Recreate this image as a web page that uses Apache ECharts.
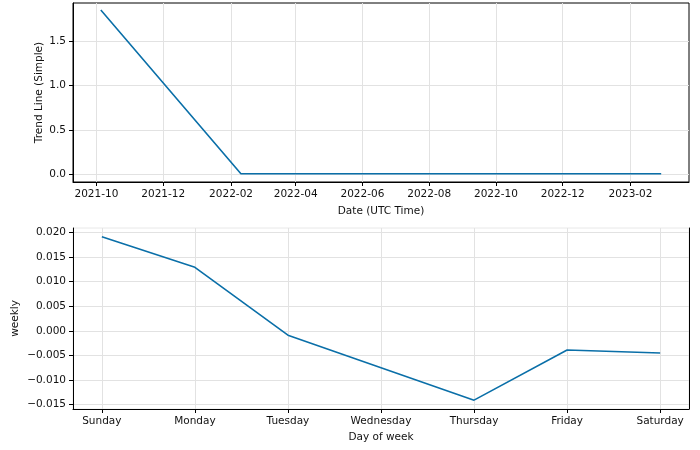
<!DOCTYPE html>
<html>
<head>
<meta charset="utf-8">
<script src="https://cdn.jsdelivr.net/npm/echarts@6/dist/echarts.min.js"></script>
<style>
html,body{margin:0;padding:0;background:#fff;}
#chart{width:700px;height:450px;}
</style>
</head>
<body>
<div id="chart"></div>
<script>
// ---- data ----
const trendDates = ['2021-10-05', '2022-02-10', '2023-03-01'];
const trendValues = [1.850, 0.010, 0.010];
const dateTicks = ['2021-10-01','2021-12-01','2022-02-01','2022-04-01','2022-06-01','2022-08-01','2022-10-01','2022-12-01','2023-02-01'];
const trendYTicks = [0, 0.5, 1.0, 1.5];

const days = ['Sunday','Monday','Tuesday','Wednesday','Thursday','Friday','Saturday'];
const weeklyValues = [0.0191, 0.0129, -0.0009, -0.0075, -0.0141, -0.0039, -0.0045];
const weeklyYTicks = [-0.015, -0.010, -0.005, 0.000, 0.005, 0.010, 0.015, 0.020];

// ---- helpers ----
const ts = s => Date.parse(s + 'T00:00:00Z');
const pad = n => (n < 10 ? '0' : '') + n;
const fmtMonth = v => { const d = new Date(v); return d.getUTCFullYear() + '-' + pad(d.getUTCMonth() + 1); };
const fmtSigned = (v, p) => (Math.abs(v) < 1e-12) ? (0).toFixed(p) : (v < 0 ? '\u2212' + Math.abs(v).toFixed(p) : Number(v).toFixed(p));

const FONT = 'DejaVu Sans';
const GRIDC = '#e2e2e2';
const LINEC = '#0a6fa8';
const labelStyle = { color: '#111', fontFamily: FONT, fontSize: 10.5 };
const nameStyle = { color: '#111', fontFamily: FONT, fontSize: 10.5 };

const chart = echarts.init(document.getElementById('chart'), null, { renderer: 'canvas' });

const option = {
  animation: false,
  backgroundColor: '#fff',
  grid: [
    { left: 73, right: 11, top: 3, height: 179, show: true, borderColor: '#000', borderWidth: 1, containLabel: false, outerBoundsMode: 'none' },
    { left: 73, right: 11, top: 228, height: 181, show: true, borderColor: '#e8e8e8', borderWidth: 1, containLabel: false, outerBoundsMode: 'none' }
  ],
  xAxis: [
    {
      type: 'value', gridIndex: 0,
      min: ts('2021-09-09') + 14 * 3600e3, max: ts('2023-03-26') + 10 * 3600e3,
      name: 'Date (UTC Time)', nameLocation: 'middle', nameGap: 24, nameMoveOverlap: false, nameTextStyle: nameStyle,
      axisLine: { show: true, onZero: false, lineStyle: { color: '#000', width: 1 } },
      axisTick: { show: true, inside: false, length: 4, lineStyle: { color: '#000' }, customValues: dateTicks.map(ts) },
      axisLabel: Object.assign({ margin: 7, customValues: dateTicks.map(ts), formatter: v => fmtMonth(v), hideOverlap: false }, labelStyle),
      splitLine: { show: true, lineStyle: { color: GRIDC, width: 1 } }
    },
    {
      type: 'value', gridIndex: 1,
      min: -0.31, max: 6.31,
      name: 'Day of week', nameLocation: 'middle', nameGap: 23, nameMoveOverlap: false, nameTextStyle: nameStyle,
      axisLine: { show: true, onZero: false, lineStyle: { color: '#000', width: 1 } },
      axisTick: { show: true, inside: false, length: 4, lineStyle: { color: '#000' }, customValues: days.map((d, i) => i) },
      axisLabel: Object.assign({ margin: 7, customValues: days.map((d, i) => i), formatter: v => days[Math.round(v)] || '' }, labelStyle),
      splitLine: { show: true, lineStyle: { color: GRIDC, width: 1 } }
    }
  ],
  yAxis: [
    {
      type: 'value', gridIndex: 0,
      min: -0.082, max: 1.928,
      name: 'Trend Line (Simple)', nameLocation: 'middle', nameGap: 28, nameMoveOverlap: false, nameRotate: 90, nameTextStyle: nameStyle,
      axisLine: { show: true, onZero: false, lineStyle: { color: '#000', width: 1 } },
      axisTick: { show: true, inside: false, length: 4, lineStyle: { color: '#000' }, customValues: trendYTicks },
      axisLabel: Object.assign({ margin: 7, customValues: trendYTicks, formatter: v => fmtSigned(v, 1) }, labelStyle),
      splitLine: { show: true, lineStyle: { color: GRIDC, width: 1 } }
    },
    {
      type: 'value', gridIndex: 1,
      min: -0.0159, max: 0.0209,
      name: 'weekly', nameLocation: 'middle', nameGap: 52, nameMoveOverlap: false, nameRotate: 90, nameTextStyle: nameStyle,
      axisLine: { show: true, onZero: false, lineStyle: { color: '#000', width: 1 } },
      axisTick: { show: true, inside: false, length: 4, lineStyle: { color: '#000' }, customValues: weeklyYTicks },
      axisLabel: Object.assign({ margin: 7, customValues: weeklyYTicks, formatter: v => fmtSigned(v, 3) }, labelStyle),
      splitLine: { show: true, lineStyle: { color: GRIDC, width: 1 } }
    },
    {
      type: 'value', gridIndex: 1, position: 'right',
      min: -0.0159, max: 0.0209,
      axisLine: { show: true, onZero: false, lineStyle: { color: '#000', width: 1 } },
      axisTick: { show: false }, axisLabel: { show: false }, splitLine: { show: false }
    }
  ],
  series: [
    {
      type: 'line', xAxisIndex: 0, yAxisIndex: 0,
      data: trendDates.map((d, i) => [ts(d), trendValues[i]]),
      showSymbol: false, symbol: 'none',
      lineStyle: { color: LINEC, width: 1.6 },
      emphasis: { disabled: true }
    },
    {
      type: 'line', xAxisIndex: 1, yAxisIndex: 1,
      data: weeklyValues.map((v, i) => [i, v]),
      showSymbol: false, symbol: 'none',
      lineStyle: { color: LINEC, width: 1.6 },
      emphasis: { disabled: true }
    }
  ]
};
chart.setOption(option);
</script>
</body>
</html>
